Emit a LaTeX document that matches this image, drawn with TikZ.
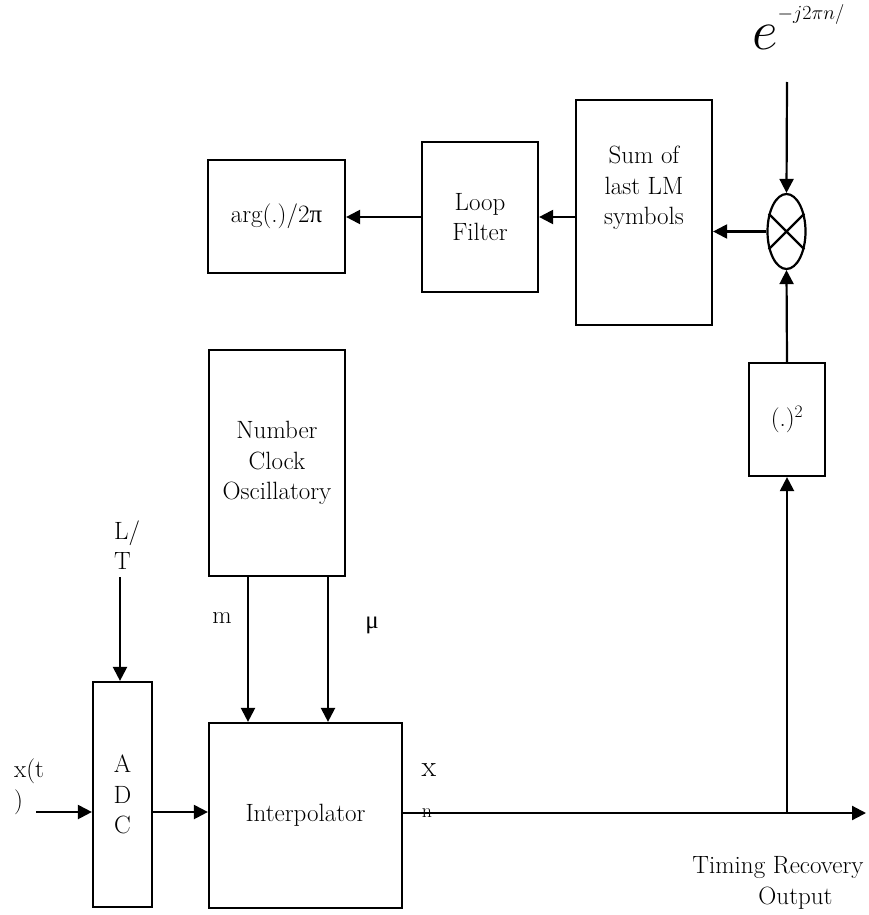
\RequirePackage{fix-cm}
\documentclass[tikz,border=0pt]{standalone}
\usepackage{fontspec}
\newfontfamily\grk{Liberation Serif}
\usetikzlibrary{arrows.meta,shapes.geometric}
\newcommand\fs{\fontsize{25}{30.5}\selectfont}
\tikzset{
  blk/.style={draw, line width=2.2pt, inner sep=0pt, align=center, font=\fs},
  arr/.style={line width=2.2pt, -{Triangle[length=14pt,width=14pt]}},
  lbl/.style={inner sep=0pt, font=\fs, align=center},
  ln/.style={line width=2.2pt}
}
\begin{document}
\begin{tikzpicture}[x=1pt,y=-1pt]
\useasboundingbox (0,0) rectangle (869,915);
% blocks
\node[blk, minimum width=137, minimum height=113] (arg) at (276.5,216.5) {arg(.)/2{\grk π}};
\node[blk, minimum width=116, minimum height=150] (loop) at (480,217) {Loop\\Filter};
\node[blk, minimum width=136, minimum height=225] (sum) at (644,212.5) {};
\node[lbl] (sumtxt) at (644,188) {Sum of\\last LM\\symbols};
\node[draw, ellipse, line width=2.2pt, inner sep=0pt, minimum width=38, minimum height=75] (mul) at (786.5,231.5) {};
\draw[ln] (mul.45) -- (mul.225) (mul.135) -- (mul.-45);
\node[blk, minimum width=76, minimum height=113] (sq) at (787,419.5) {(.)\textsuperscript{2}};
\node[blk, minimum width=136, minimum height=226] (nco) at (277,463) {Number\\Clock\\Oscillatory};
\node[blk, minimum width=193, minimum height=185] (interp) at (305.5,815.5) {Interpolator};
\node[blk, minimum width=59, minimum height=225] (adc) at (122.5,794.5) {A\\D\\C};
% coordinates
\coordinate (etop) at (787,82);
\coordinate (J) at (787,813);
\coordinate (out) at (866,813);
\coordinate (lt) at (120,577);
\coordinate (xin) at (36,812);
% connectors
\draw[arr] (mul.west) -- (sum.east |- mul.west);
\draw[arr] (sum.west |- loop.east) -- (loop.east);
\draw[arr] (loop.west) -- (arg.east |- loop.west);
\draw[arr] (etop) -- (mul.north);
\draw[arr] (sq.south |- J) -- (sq.south);
\draw[arr] (sq.north) -- (mul.south);
\draw[arr] (interp.east |- J) -- (out);
\draw[arr] ([xshift=-29pt]nco.south) -- ([xshift=-29pt]nco.south |- interp.north);
\draw[arr] ([xshift=51pt]nco.south) -- ([xshift=51pt]nco.south |- interp.north);
\draw[arr] (lt) -- (lt |- adc.north);
\draw[arr] (xin) -- (xin -| adc.west);
\draw[arr] (adc.east |- xin) -- (xin -| interp.west);
% labels
\node[inner sep=0pt, anchor=base west] (expo) at (752,50) {{\fontsize{56}{56}\selectfont$e$}\raisebox{30pt}{\fontsize{20}{20}\selectfont$-j2\pi n/$}};
\node[lbl, align=left, anchor=south west] (ltlbl) at (114,570) {L/\\T};
\node[lbl] (mlbl) at (222,618) {m};
\node[lbl] (mulbl) at (372,625) {\grk μ};
\node[inner sep=0pt, font=\fontsize{30}{30}\selectfont] (xlbl) at (429,770) {x};
\node[inner sep=0pt, font=\fontsize{20}{20}\selectfont] (nlbl) at (427,813) {n};
\node[lbl, align=left, anchor=west] (xtlbl) at (14,787) {x(t\\)};
\node[lbl] (tro) at (778,883) {Timing Recovery\\\hspace*{35pt}Output};
\end{tikzpicture}
\end{document}
